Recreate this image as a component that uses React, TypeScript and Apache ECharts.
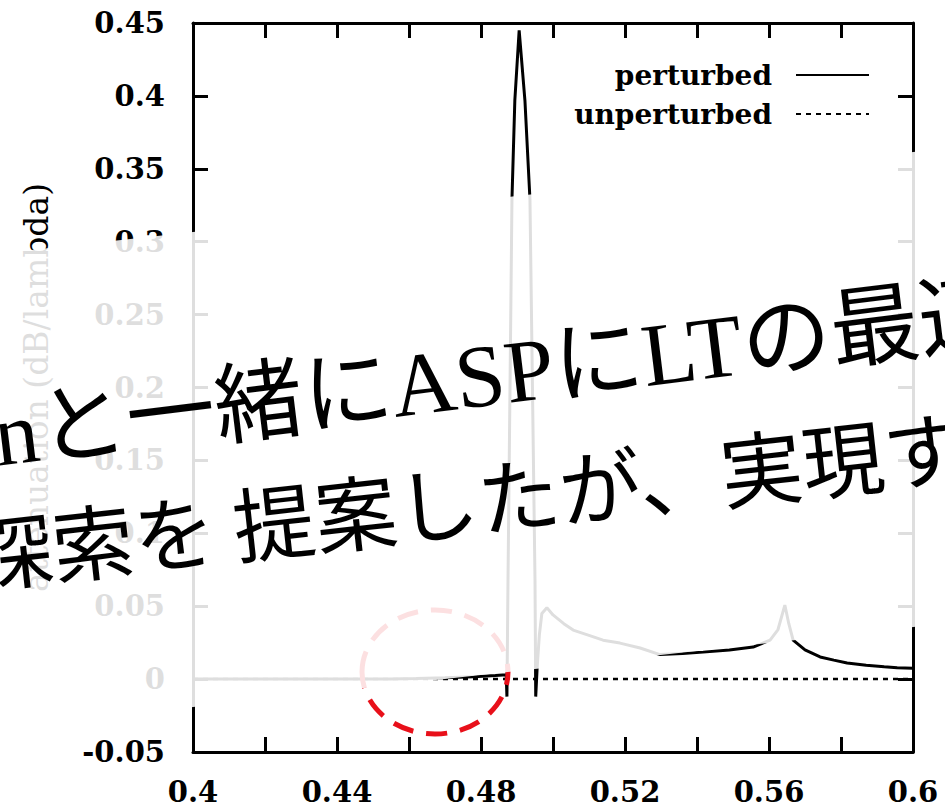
import React, { useEffect, useRef } from 'react';
import * as echarts from 'echarts';

// ---- data ----
const perturbedX = [
  0.4, 0.42, 0.44, 0.455, 0.462, 0.47, 0.478, 0.484, 0.487, 0.4872, 0.4875, 0.4886, 0.4894, 0.4906,
  0.4922, 0.4936, 0.495, 0.4952, 0.4956, 0.4962, 0.4969, 0.4983, 0.5, 0.503, 0.5056, 0.51, 0.5139,
  0.5186, 0.5242, 0.5297, 0.536, 0.5417, 0.549, 0.5556, 0.5603, 0.5625, 0.5644, 0.5655, 0.5667,
  0.57, 0.5742, 0.578, 0.5817, 0.587, 0.592, 0.5956, 0.6,
];
const perturbedY = [
  0, 0, 0, 0.0001, 0.0004, 0.0009, 0.0016, 0.0024, 0.003, -0.012, 0.068, 0.329, 0.397, 0.445,
  0.397, 0.329, 0.068, -0.012, 0.008, 0.03, 0.045, 0.049, 0.044, 0.038, 0.0336, 0.03, 0.0267,
  0.0247, 0.0213, 0.0168, 0.0175, 0.0185, 0.02, 0.022, 0.0267, 0.034, 0.0508, 0.038, 0.0267,
  0.02, 0.0152, 0.013, 0.011, 0.0095, 0.0085, 0.0078, 0.0075,
];
const unperturbedX = [0.4, 0.45, 0.5, 0.55, 0.6];
const unperturbedY = [0, 0, 0, 0, 0];

const xTickLabels = ['0.4', '0.44', '0.48', '0.52', '0.56', '0.6'];
const yTickLabels = ['-0.05', '0', '0.05', '0.1', '0.15', '0.2', '0.25', '0.3', '0.35', '0.4', '0.45'];
const seriesNames = ['perturbed', 'unperturbed'];
const yAxisName = 'attenuation (dB/lambda)';
const overlayLine1 = 'nと一緒にASPにLTの最適化';
const overlayLine2 = '探索を 提案したが、実現する';

const SERIF = '"DejaVu Serif", serif';

export default function App() {
  const ref = useRef<HTMLDivElement>(null);

  useEffect(() => {
    if (!ref.current) return;
    const chart = echarts.init(ref.current, undefined, { renderer: 'svg' });

    const axisLine = { show: true, onZero: false, lineStyle: { color: '#000', width: 3 } };
    const labelStyle = {
      fontFamily: SERIF,
      fontWeight: 'bold' as const,
      fontSize: 29,
      color: '#000',
    };

    const band = (x: number, yTop: number) => yTop - (x - 193) * 0.111;

    const option: any = {
      animation: false,
      backgroundColor: '#fff',
      grid: { left: 193, right: 32, top: 23, bottom: 59, outerBoundsMode: 'none', containLabel: false },
      xAxis: [
        {
          type: 'value', min: 0.4, max: 0.6, interval: 0.02, position: 'bottom',
          axisLine, splitLine: { show: false },
          axisTick: { show: true, inside: true, length: 15, lineStyle: { color: '#000', width: 3 } },
          axisLabel: {
            ...labelStyle, margin: 25, showMinLabel: true, showMaxLabel: true, hideOverlap: false,
            formatter: (v: number) => {
              const s = String(Math.round(v * 100) / 100);
              return xTickLabels.includes(s) ? s : '';
            },
          },
        },
        {
          type: 'value', min: 0.4, max: 0.6, interval: 0.02, position: 'top',
          axisLine, splitLine: { show: false },
          axisTick: { show: true, inside: true, length: 15, lineStyle: { color: '#000', width: 3 } },
          axisLabel: { show: false },
        },
      ],
      yAxis: [
        {
          type: 'value', min: -0.05, max: 0.45, interval: 0.05, position: 'left',
          axisLine, splitLine: { show: false },
          axisTick: { show: true, inside: true, length: 15, lineStyle: { color: '#000', width: 3 } },
          axisLabel: {
            ...labelStyle, margin: 28, showMinLabel: true, showMaxLabel: true,
            formatter: (v: number) => {
              const s = String(Math.round(v * 100) / 100);
              return yTickLabels.includes(s) ? s : '';
            },
          },
          name: yAxisName,
          nameLocation: 'middle',
          nameGap: 140,
          nameTextStyle: { fontFamily: SERIF, fontSize: 33, color: '#000' },
        },
        {
          type: 'value', min: -0.05, max: 0.45, interval: 0.05, position: 'right',
          axisLine, splitLine: { show: false },
          axisTick: { show: true, inside: true, length: 15, lineStyle: { color: '#000', width: 3 } },
          axisLabel: { show: false },
        },
      ],
      legend: {
        orient: 'vertical', right: 70, top: 56, align: 'right',
        itemWidth: 73, itemHeight: 14, itemGap: 11,
        selectedMode: false,
        data: seriesNames,
        itemStyle: { opacity: 0 },
        textStyle: { fontFamily: SERIF, fontWeight: 'bold', fontSize: 28, color: '#000', padding: [0, 19, 0, 0] },
      },
      series: [
        {
          name: seriesNames[1], type: 'line', xAxisIndex: 0, yAxisIndex: 0,
          showSymbol: false, symbol: 'none',
          itemStyle: { color: '#000' },
          lineStyle: { color: '#000', width: 2.5, type: [5, 5] },
          data: unperturbedX.map((x, i) => [x, unperturbedY[i]]),
          z: 2,
        },
        {
          name: seriesNames[0], type: 'line', xAxisIndex: 0, yAxisIndex: 0,
          showSymbol: false, symbol: 'none',
          itemStyle: { color: '#000' },
          lineStyle: { color: '#000', width: 3 },
          data: perturbedX.map((x, i) => [x, perturbedY[i]]),
          z: 3,
        },
      ],
      graphic: [
        {
          type: 'ellipse', z: 99,
          shape: { cx: 435, cy: 672, rx: 73, ry: 62 },
          style: { fill: 'none', stroke: '#e8101a', lineWidth: 5, lineDash: [21, 13] },
        },
        {
          type: 'polygon', z: 100,
          shape: {
            points: [
              [-60, band(-60, 232)], [1010, band(1010, 232)],
              [1010, band(1010, 707)], [-60, band(-60, 707)],
            ],
          },
          style: { fill: '#fff', opacity: 0.87 },
        },
        {
          type: 'text', z: 101, x: -6, y: 436, rotation: 0.122,
          style: {
            text: overlayLine1, fill: '#000', align: 'left', verticalAlign: 'middle',
            font: '89px "Liberation Serif", "Noto Sans CJK JP"',
          },
        },
        {
          type: 'text', z: 101, x: -30, y: 552, rotation: 0.11,
          style: {
            text: overlayLine2, fill: '#000', align: 'left', verticalAlign: 'middle',
            font: '82px "Noto Sans CJK JP"',
          },
        },
      ],
    };

    chart.setOption(option);
    return () => chart.dispose();
  }, []);

  return (
    <div
      ref={ref}
      style={{ position: 'fixed', left: 0, top: 0, width: 945, height: 811, background: '#fff' }}
    />
  );
}
